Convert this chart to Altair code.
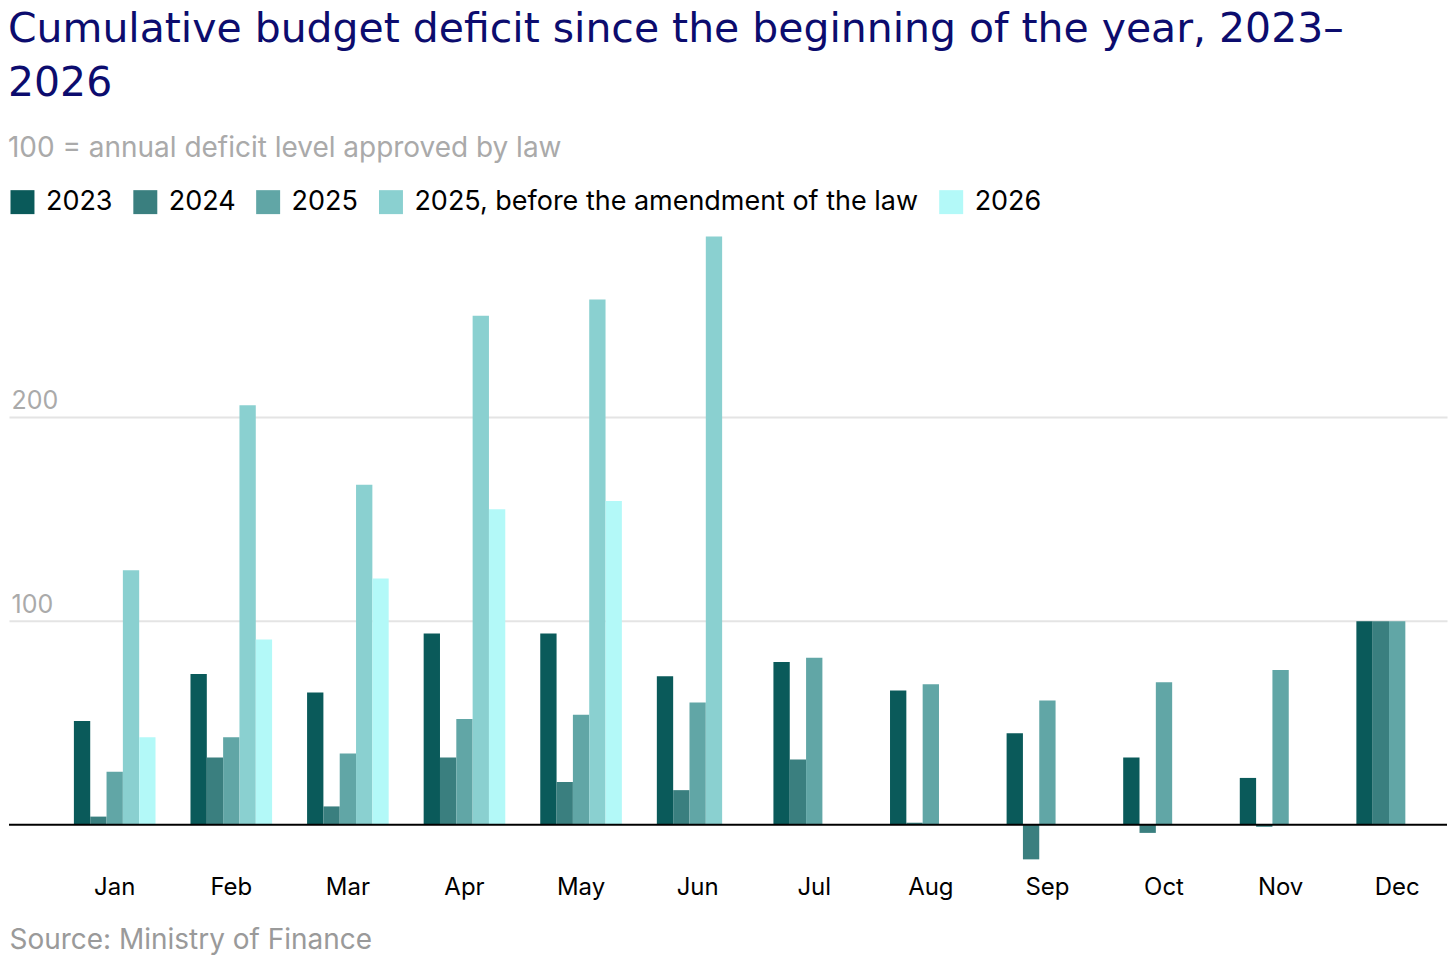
import altair as alt
import pandas as pd

months = ["Jan", "Feb", "Mar", "Apr", "May", "Jun", "Jul", "Aug", "Sep", "Oct", "Nov", "Dec"]
series = ["2023", "2024", "2025", "2025, before the amendment of the law", "2026"]
colors = ["#0a5a5a", "#3a7f7f", "#61a6a6", "#8ad0d0", "#b3f9f8"]

v2023 = [51, 74, 65, 94, 94, 73, 80, 66, 45, 33, 23, 100]
v2024 = [4, 33, 9, 33, 21, 17, 32, 1, -17, -4, -1, 100]
v2025 = [26, 43, 35, 52, 54, 60, 82, 69, 61, 70, 76, 100]
v2025_before = [125, 206, 167, 250, 258, 289]   # Jan-Jun
v2026 = [43, 91, 121, 155, 159]                 # Jan-May

rows = []
for name, vals in zip(series, [v2023, v2024, v2025, v2025_before, v2026]):
    for m, v in zip(months, vals):
        rows.append({"month": m, "series": name, "value": v})
df = pd.DataFrame(rows)
zero_df = pd.DataFrame({"value": [0]})

FONT = "Inter"
TFONT = "DejaVu Sans"

y_axis = alt.Axis(
    values=[100, 200], title=None, domain=False, ticks=False, tickSize=0,
    labelAlign="left", labelBaseline="alphabetic", labelPadding=-2, labelOffset=-9,
    labelFontSize=25, labelColor="#aaaaaa", labelFont=FONT,
    grid=True, gridColor="#e4e4e4", gridWidth=2,
)

bars = alt.Chart(df).mark_bar().encode(
    x=alt.X(
        "month:N", sort=months,
        scale=alt.Scale(paddingInner=0.3, paddingOuter=0.317, align=0.878),
        axis=alt.Axis(
            title="Source: Ministry of Finance", titleAnchor="start", titleAlign="left",
            titleFontSize=28, titleFontWeight="normal", titleColor="#9a9a9a", titleFont=FONT,
            titlePadding=27, titleLimit=1000,
            labelAngle=0, labelFontSize=24, labelColor="#000000", labelFont=FONT,
            labelPadding=10, ticks=False, domain=False, grid=False,
        ),
    ),
    xOffset=alt.XOffset("series:N", scale=alt.Scale(domain=series)),
    y=alt.Y("value:Q", scale=alt.Scale(domain=[-20, 290], nice=False), axis=y_axis),
    color=alt.Color(
        "series:N",
        scale=alt.Scale(domain=series, range=colors),
        legend=alt.Legend(
            orient="top", direction="horizontal", title=None,
            symbolType="square", symbolSize=576, symbolStrokeWidth=0,
            labelFontSize=27, labelFont=FONT, labelColor="#000000",
            labelOffset=10, columnPadding=19, offset=19, labelLimit=800,
        ),
    ),
)

zero = alt.Chart(zero_df).mark_rule(color="#000000", strokeWidth=2).encode(
    y=alt.Y("value:Q", axis=y_axis)
)

chart = alt.layer(bars, zero).properties(
    width=1440,
    height=632,
    padding=0,
    title=alt.TitleParams(
        text=["Cumulative budget deficit since the beginning of the year, 2023–", "2026"],
        subtitle="100 = annual deficit level approved by law",
        anchor="start", font=TFONT, fontSize=41, fontWeight="normal", color="#0c0c6e",
        lineHeight=54, subtitleFont=FONT, subtitleFontSize=28, subtitleColor="#aaaaaa",
        subtitlePadding=31, offset=24,
    ),
).configure_view(stroke=None)

chart.save("out.html", embed_options={"renderer": "svg", "actions": False})
